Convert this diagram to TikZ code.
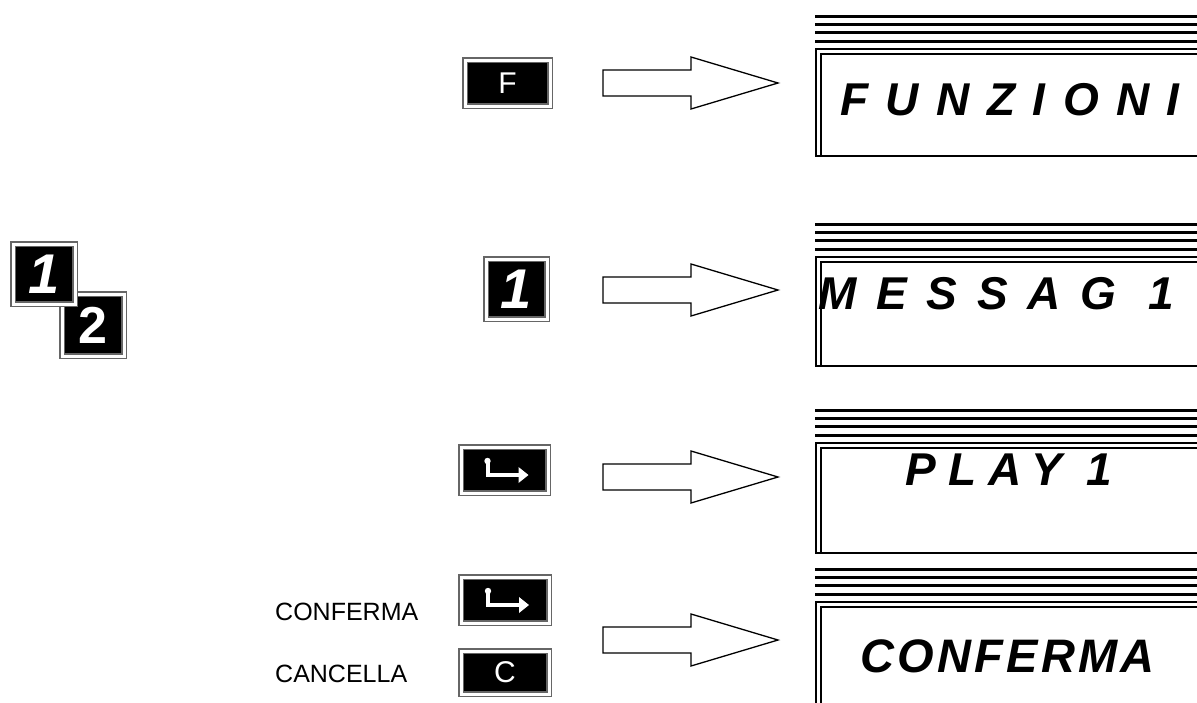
\documentclass[tikz,border=0pt]{standalone}
\usepackage{fontspec}
\setmainfont{Liberation Sans}
\usetikzlibrary{calc}
\tikzset{
 keybox/.style={fill=black, draw=black!60, double=white, double distance=3pt, line width=1.4pt, text=white, inner sep=0pt, outer sep=0pt},
 keyfont/.style={font=\fontsize{30}{30}\selectfont},
 digitfont/.style={font=\fontsize{56}{56}\selectfont\bfseries\itshape},
 stripe/.style={line width=3pt, draw=black},
 disp/.style={draw=black, line width=2pt, inner sep=0pt, outer sep=0pt},
 blockarrow/.style={draw=black, line width=1.3pt, line join=miter, fill=white},
 bigtext/.style={anchor=base west, inner sep=0pt, font=\fontsize{46}{46}\selectfont\bfseries\itshape},
 lbl/.style={anchor=base west, inner sep=0pt, font=\fontsize{25}{25}\selectfont},
 entersym/.style={draw=white, line width=4pt},
}
\newcommand\blockarr[2]{%
 \coordinate (#1) at (603,#2);
 \draw[blockarrow] ($(#1)+(0,-13)$) -- ++(88,0) -- ++(0,-13) -- ++(87,26) -- ++(-87,26) -- ++(0,-13) -- ++(-88,0) -- cycle;
}
\newcommand\dispbox[3]{% name, top, bottom
 \foreach \k in {0,1,2,3} \draw[stripe] (815,{#2-33+8.4*\k}) -- (1200,{#2-33+8.4*\k});
 \coordinate (#1) at (816,#2);
 \draw[disp] (#1) rectangle (1210,#3);
 \draw[line width=1.8pt] (821,#3) -- (821,#2+5) -- (1210,#2+5);
}
\newcommand\entermark[1]{%
 \draw[entersym] ($(#1)+(-17,-8)$) -- ($(#1)+(-17,5)$) -- ($(#1)+(16,5)$);
 \fill[white] ($(#1)+(-17,-9)$) circle (3.2);
 \fill[white] ($(#1)+(14,-3)$) -- ($(#1)+(24,5)$) -- ($(#1)+(14,13)$) -- cycle;
}
\begin{document}
\begin{tikzpicture}[x=1pt,y=-1pt]
\useasboundingbox (0,0) rectangle (1197,702);
\clip (0,0) rectangle (1197,702);
\fill[white] (0,0) rectangle (1197,702);

% left keys 1/2
\node[keybox, minimum width=62pt, minimum height=62pt, font=\fontsize{52}{52}\selectfont\bfseries] (k2) at (93,325) {2};
\node[keybox, minimum width=62pt, minimum height=60pt, digitfont] (k1) at (44,274) {1};

% row 1
\node[keybox, keyfont, minimum width=85pt, minimum height=46pt] (kf) at (507.5,83) {F};
\blockarr{a1}{83}
\dispbox{d1}{49}{156}
\node[bigtext] (t1) at (840,115) {\addfontfeature{LetterSpace=38}FUNZIONI};

% row 2
\node[keybox, digitfont, minimum width=61pt, minimum height=60pt] (kone) at (516.5,289) {1};
\blockarr{a2}{290}
\dispbox{d2}{257}{366}
\node[bigtext] (t2) at (818,309) {\addfontfeature{LetterSpace=43}MESSAG 1};

% row 3
\node[keybox, minimum width=87pt, minimum height=46pt] (kent1) at (504.5,470) {};
\entermark{kent1}
\blockarr{a3}{477}
\dispbox{d3}{443}{553}
\node[bigtext] (t3) at (905,485) {\addfontfeature{LetterSpace=27}PLAY 1};

% row 4
\node[lbl] (l1) at (275,620) {CONFERMA};
\node[lbl] (l2) at (275,682) {CANCELLA};
\node[keybox, minimum width=88pt, minimum height=46pt] (kent2) at (505,600) {};
\entermark{kent2}
\node[keybox, keyfont, minimum width=88pt, minimum height=43pt] (kc) at (505,672.5) {C};
\blockarr{a4}{640}
\dispbox{d4}{602}{760}
\node[bigtext, font=\fontsize{47}{47}\selectfont\bfseries\itshape] (t4) at (860,672) {\addfontfeature{LetterSpace=7}CONFERMA};
\end{tikzpicture}
\end{document}
